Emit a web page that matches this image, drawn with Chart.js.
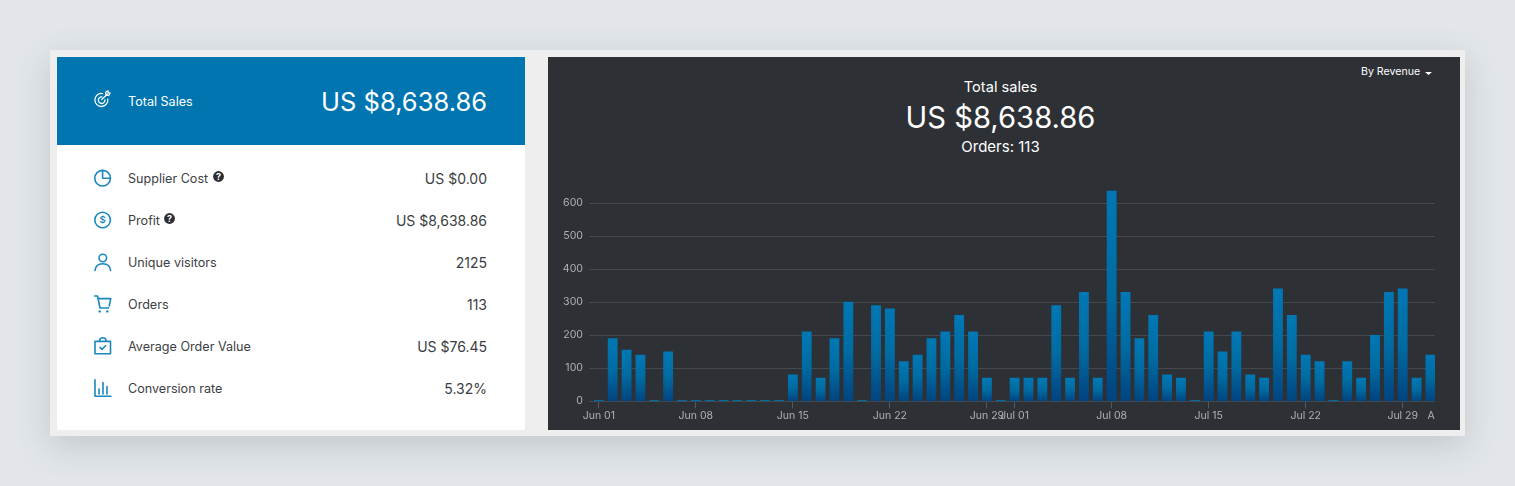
<!DOCTYPE html>
<html><head><meta charset="utf-8">
<script src="https://cdn.jsdelivr.net/npm/chart.js@4"></script>
<style>
html,body{margin:0;padding:0;width:1515px;height:486px;overflow:hidden;background:#e2e6ea;font-family:Inter,sans-serif}
.abs{position:absolute}
#frame{left:50px;top:50px;width:1415px;height:386px;background:#eeeeee;box-shadow:0 10px 32px rgba(70,80,95,.2)}
#left{left:57px;top:57px;width:468px;height:373px;background:#fff}
#head{left:57px;top:57px;width:468px;height:88px;background:#0075b0}
#right{left:548px;top:57px;width:912px;height:373px;background:#2d3035}
.t{position:absolute;white-space:nowrap;line-height:20px;transform:translateY(-50%)}
.lab{left:128px;font-size:12.6px;color:#3d4044}
.val{right:1028px;font-size:14px;color:#3a3d41}
svg{position:absolute;overflow:visible}
svg .s{fill:none;stroke:#1b87bf;stroke-width:1.6;stroke-linecap:round;stroke-linejoin:round}
canvas{position:absolute}
</style></head><body>
<div class="abs" id="frame"></div>
<div class="abs" id="left"></div>
<div class="abs" id="head"></div>
<div class="abs" id="right"></div>

<svg style="left:94px;top:91px" width="17" height="17" viewBox="0 0 17 17">
 <g fill="none" stroke="#fff" stroke-width="1.3" stroke-linecap="round"><path d="M13.8 8.2a6.5 6.5 0 1 1-5.2-5.6"/><path d="M10.9 8.9a3.3 3.3 0 1 1-3-3"/><path d="M7.6 8.6 13.4 3"/><path d="M11.6 3l.3-2 2-1 .4 1.7 1.7.4-1 2-2 .3z"/></g></svg>
<div class="t" style="left:128px;top:101.5px;font-size:12.6px;color:#fff">Total Sales</div>
<div class="t" style="right:1028px;top:101.5px;font-size:25.5px;color:#fff">US $8,638.86</div>

<svg style="left:94px;top:169px" width="18" height="18" viewBox="0 0 18 18"><circle class="s" cx="8.6" cy="9.2" r="7.8"/><path class="s" d="M8.6 1.4v7.8h7.8"/></svg>
<div class="t lab" style="top:178.5px">Supplier Cost</div>
<svg style="left:213px;top:171px" width="11" height="11" viewBox="0 0 11 11"><circle cx="5.5" cy="5.5" r="5.4" fill="#2b2d30"/><text x="5.5" y="8.8" text-anchor="middle" font-family="Inter" font-weight="700" font-size="9" fill="#fff">?</text></svg>
<div class="t val" style="top:178.5px">US $0.00</div>

<svg style="left:94px;top:211px" width="18" height="18" viewBox="0 0 18 18"><circle class="s" cx="8.6" cy="9" r="7.8"/><text x="8.6" y="12.4" text-anchor="middle" font-family="Inter" font-weight="600" font-size="9.5" fill="#1b87bf">$</text></svg>
<div class="t lab" style="top:220.5px">Profit</div>
<svg style="left:164px;top:213px" width="11" height="11" viewBox="0 0 11 11"><circle cx="5.5" cy="5.5" r="5.4" fill="#2b2d30"/><text x="5.5" y="8.8" text-anchor="middle" font-family="Inter" font-weight="700" font-size="9" fill="#fff">?</text></svg>
<div class="t val" style="top:220.5px">US $8,638.86</div>

<svg style="left:94px;top:253px" width="18" height="18" viewBox="0 0 18 18"><circle class="s" cx="8.8" cy="5" r="3.8"/><path class="s" d="M1 17.5c.4-4.5 3.6-6.8 7.8-6.8s7.4 2.3 7.8 6.8"/></svg>
<div class="t lab" style="top:262.5px">Unique visitors</div>
<div class="t val" style="top:262.5px">2125</div>

<svg style="left:94px;top:295px" width="18" height="18" viewBox="0 0 18 18"><path class="s" d="M.6 1 3.6 1 6 13h8.6"/><path class="s" d="M4.2 3.6h12.6l-1.6 7.4"/><circle cx="5.7" cy="16.4" r="1.2" fill="#1b87bf"/><circle cx="13.3" cy="16.4" r="1.2" fill="#1b87bf"/></svg>
<div class="t lab" style="top:304.5px">Orders</div>
<div class="t val" style="top:304.5px">113</div>

<svg style="left:94px;top:337px" width="18" height="18" viewBox="0 0 18 18"><path class="s" d="M1 4.4h15.5v12.4H1z"/><path class="s" d="M5.4 4.2C5.6 1.8 7 .8 8.8.8s3.2 1 3.4 3.4"/><path class="s" d="m6 10.4 2 2 3.6-3.6"/></svg>
<div class="t lab" style="top:346.5px">Average Order Value</div>
<div class="t val" style="top:346.5px">US $76.45</div>

<svg style="left:94px;top:379px" width="18" height="18" viewBox="0 0 18 18"><path class="s" d="M1 .8v16.4h16"/><path class="s" d="M5 15v-5M9 15V3.5M13 15V7.5"/></svg>
<div class="t lab" style="top:388.5px">Conversion rate</div>
<div class="t val" style="top:388.5px">5.32%</div>

<div class="t" style="left:548px;width:905px;text-align:center;top:87px;font-size:14.6px;color:#fff">Total sales</div>
<div class="t" style="left:548px;width:905px;text-align:center;top:118px;font-size:29.2px;color:#fff;line-height:36px">US $8,638.86</div>
<div class="t" style="left:548px;width:905px;text-align:center;top:147px;font-size:15px;color:#fff">Orders: 113</div>
<div class="t" style="left:1361px;top:72px;font-size:10.6px;color:#fff">By Revenue</div>
<svg style="left:1424.5px;top:71.5px" width="7" height="3" viewBox="0 0 7 3"><path d="M0 0h7L3.5 3z" fill="#fff"/></svg>

<canvas id="c" style="left:555px;top:180px;width:880px;height:250px"></canvas>
<script>
const dayIndex = [0,1,2,3,4,5,6,7,8,9,10,11,12,13,14,15,16,17,18,19,20,21,22,23,24,25,26,27,28,29,30,31,32,33,34,35,36,37,38,39,40,41,42,43,44,45,46,47,48,49,50,51,52,53,54,55,56,57,58,59,60];
const revenue = [0,190,155,140,0,150,0,0,0,0,0,0,0,0,80,210,70,190,300,0,290,280,120,140,190,210,260,210,70,0,70,70,70,290,70,330,70,636,330,190,260,80,70,0,210,150,210,80,70,340,260,140,120,0,120,70,200,330,340,70,140];
const xTickValues = [0,7,14,21,28,30,37,44,51,58,61];
const xTickLabels = ['Jun 01','Jun 08','Jun 15','Jun 22','Jun 29','Jul 01','Jul 08','Jul 15','Jul 22','Jul 29','Aug 01'];
const yTickValues = [0,100,200,300,400,500,600];

const canvas = document.getElementById('c');
function barGradient(ctx){
  if(ctx.type!=='data') return '#0075b0';
  const chart=ctx.chart, y=chart.scales.y;
  const v=ctx.parsed? ctx.parsed.y : revenue[ctx.dataIndex];
  if(!y||!v) return '#006ba4';
  const g=chart.ctx.createLinearGradient(0,y.getPixelForValue(v),0,y.getPixelForValue(0));
  g.addColorStop(0,'#0078b5');
  g.addColorStop(.5,'#006ba2');
  g.addColorStop(1,'#004480');
  return g;
}
new Chart(canvas,{
  type:'bar',
  data:{datasets:[{
    data:dayIndex.map((d,i)=>({x:d,y:revenue[i]})),
    backgroundColor:barGradient,
    borderWidth:0,
    barThickness:9.2,
    minBarLength:1
  }]},
  options:{
    responsive:false,animation:false,devicePixelRatio:1,
    layout:{padding:{top:9.8,left:0,right:0,bottom:0}},
    plugins:{legend:{display:false},tooltip:{enabled:false},title:{display:false}},
    scales:{
      x:{type:'linear',offset:false,min:-0.71,max:60.33,
        grid:{offset:false,drawOnChartArea:false,drawTicks:true,tickLength:7,color:'#55585c',lineWidth:1},
        border:{display:false},
        afterBuildTicks:s=>{s.ticks=xTickValues.map(v=>({value:v}));},
        afterFit:s=>{s.paddingLeft=0;s.paddingRight=0;s.height=28.7;},
        ticks:{autoSkip:false,maxRotation:0,minRotation:0,padding:1,color:'#afb2b5',font:{family:'Inter',size:10.5},
          callback:v=>{const i=xTickValues.indexOf(v);return i<0?'':xTickLabels[i];}}
      },
      y:{min:0,max:640,
        grid:{color:'#45484c',lineWidth:1,drawTicks:false},
        border:{display:false},
        afterBuildTicks:s=>{s.ticks=yTickValues.map(v=>({value:v}));},
        afterFit:s=>{s.width=34;s.paddingTop=0;s.paddingBottom=0;},
        ticks:{padding:6,color:'#afb2b5',font:{family:'Inter',size:10.6}}
      }
    }
  }
});
</script>
</body></html>
